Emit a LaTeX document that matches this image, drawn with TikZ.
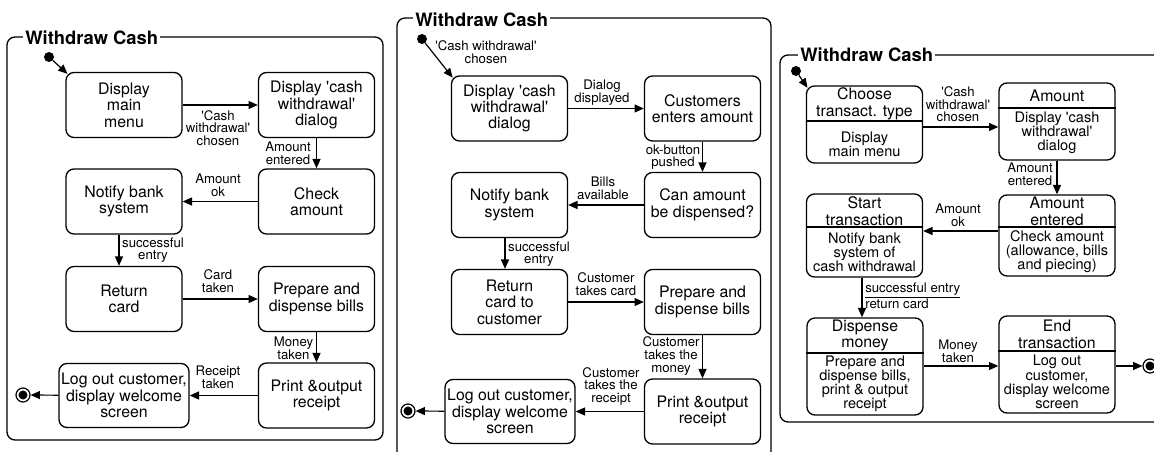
\documentclass[tikz,border=0pt]{standalone}
\usepackage{fontspec}
\setmainfont{TeX Gyre Heros}[Ligatures=TeXOff]
\usetikzlibrary{arrows.meta}
\newcommand\StateFont{\fontsize{11.9}{12.3}\selectfont}
\newcommand\BodyFont{\fontsize{10.9}{10.6}\selectfont}
\newcommand\LabelFont{\fontsize{9.9}{9.5}\selectfont}
\newcommand\TitleFont{\fontsize{13.8}{14}\selectfont\bfseries}
\begin{document}
\begin{tikzpicture}[x=0.75pt,y=-0.75pt,
  st/.style={draw,line width=1pt,rounded corners=6pt,align=center,font=\StateFont,
             inner sep=0pt,minimum width=87pt,minimum height=48.75pt},
  wide/.style={minimum width=97.5pt,minimum height=48pt},
  ct/.style={align=center,font=\StateFont,inner sep=0pt},
  bt/.style={align=center,font=\BodyFont,inner sep=0pt},
  lbl/.style={align=center,font=\LabelFont,inner sep=0pt},
  arr/.style={line width=0.9pt,-{Triangle[length=7pt,width=6pt]}},
  toedge/.style={shorten >=-2.2pt},
  div/.style={line width=0.9pt},
  frame/.style={draw,line width=1pt,rounded corners=6pt},
  ttl/.style={font=\TitleFont,fill=white,inner xsep=1.5pt,inner ysep=0pt,anchor=west},
  init/.style={circle,fill,inner sep=0pt,minimum size=7.5pt},
  fin/.style={circle,draw,line width=0.9pt,minimum size=10.5pt,inner sep=0pt,
              path picture={\fill (path picture bounding box.center) circle[radius=3.4pt];}},
]
\useasboundingbox (0,0) rectangle (1154,452);
\clip (0,0) rectangle (1154,452);
\fill[white] (0,0) rectangle (1154,452);

% ---------------- first variant ----------------
\draw[frame] (7,37) rectangle (383,440);
\node[ttl] (p1t) at (23,37.5) {Withdraw Cash};

\node[init] (p1i) at (49,57) {};
\node[st] (p1a) at (124,105) {Display\\main\\menu};
\node[st] (p1b) at (316.5,105) {Display 'cash\\withdrawal'\\dialog};
\node[st] (p1c) at (316.5,201.5) {Check\\amount};
\node[st] (p1d) at (124,201.5) {Notify bank\\system};
\node[st] (p1e) at (124,299) {Return\\card};
\node[st] (p1f) at (316.5,299) {Prepare and\\dispense bills};
\node[st] (p1g) at (316.5,395.5) {Print \&output\\receipt};
\node[st,wide] (p1h) at (124,395.5) {Log out customer,\\display welcome\\screen};
\node[fin] (p1z) at (23,395) {};

\draw[arr,toedge] (p1i) -- (p1a.north west);
\draw[arr] (p1a) -- (p1b);
\draw[arr] (p1b) -- (p1c);
\draw[arr] (p1c) -- (p1d);
\draw[arr] (119,0 |- p1d.south) -- (119,0 |- p1e.north);
\draw[arr] (p1e) -- (p1f);
\draw[arr] (p1f) -- (p1g);
\draw[arr] (p1g) -- (p1h);
\draw[arr] (p1h) -- (p1z);

\node[lbl] (p1l1) at (218,128) {'Cash\\withdrawal'\\chosen};
\node[lbl] (p1l2) at (288,153) {Amount\\entered};
\node[lbl] (p1l3) at (218,185.5) {Amount\\ok};
\node[lbl] (p1l4) at (153,250) {successful\\entry};
\node[lbl] (p1l5) at (218,281) {Card\\taken};
\node[lbl] (p1l6) at (293.5,348.5) {Money\\taken};
\node[lbl] (p1l7) at (218,377) {Receipt\\taken};

% ---------------- second variant ----------------
\draw[frame] (397,18) rectangle (771,480);
\node[ttl] (p2t) at (413,20) {Withdraw Cash};

\node[init] (p2i) at (422,39) {};
\node[st] (p2a) at (509.5,108.5) {Display 'cash\\withdrawal'\\dialog};
\node[st] (p2b) at (702.5,108.5) {Customers\\enters amount};
\node[st] (p2c) at (702.5,205) {Can amount\\be dispensed?};
\node[st] (p2d) at (509.5,205) {Notify bank\\system};
\node[st] (p2e) at (509.5,302) {Return\\card to\\customer};
\node[st] (p2f) at (702.5,302) {Prepare and\\dispense bills};
\node[st] (p2g) at (702.5,411.5) {Print \&output\\receipt};
\node[st,wide] (p2h) at (510,411.5) {Log out customer,\\display welcome\\screen};
\node[fin] (p2z) at (408,411) {};

\draw[arr,toedge] (p2i) -- (p2a.north west);
\draw[arr] (p2a) -- (p2b);
\draw[arr] (p2b) -- (p2c);
\draw[arr] (p2c) -- (p2d);
\draw[arr] (505,0 |- p2d.south) -- (505,0 |- p2e.north);
\draw[arr] (p2e) -- (p2f);
\draw[arr] (p2f) -- (p2g);
\draw[arr] (p2g) -- (p2h);
\draw[arr] (p2h) -- (p2z);

\node[lbl] (p2l1) at (486,52.5) {'Cash withdrawal'\\chosen};
\node[lbl] (p2l2) at (602,92.5) {Dialog\\displayed};
\node[lbl] (p2l3) at (673,157) {ok-button\\pushed};
\node[lbl] (p2l4) at (603,188) {Bills\\available};
\node[lbl] (p2l5) at (539,254) {successful\\entry};
\node[lbl] (p2l6) at (606,284) {Customer\\takes card};
\node[lbl] (p2l7) at (671,356) {Customer\\takes the\\money};
\node[lbl] (p2l8) at (611,386.5) {Customer\\takes the\\receipt};

% ---------------- third variant ----------------
\draw[frame] (780,55) rectangle (1190,422);
\node[ttl] (p3t) at (798,55) {Withdraw Cash};

\node[init] (p3i) at (796,71) {};
\node[st,minimum height=57.75pt] (p3a) at (864.5,124.5) {};
\node[st,minimum height=57.75pt] (p3b) at (1057,121.5) {};
\node[st,minimum height=60.75pt] (p3c) at (1057,235.5) {};
\node[st,minimum height=62.25pt] (p3d) at (864.5,235.5) {};
\node[st,minimum height=72.75pt] (p3e) at (865,366.5) {};
\node[st,minimum height=72.75pt] (p3f) at (1057,364.5) {};
\node[fin] (p3z) at (1150,366) {};

\draw[div] (p3a.west |- 0,121) -- (p3a.east |- 0,121);
\draw[div] (p3b.west |- 0,108) -- (p3b.east |- 0,108);
\draw[div] (p3c.west |- 0,227) -- (p3c.east |- 0,227);
\draw[div] (p3d.west |- 0,227) -- (p3d.east |- 0,227);
\draw[div] (p3e.west |- 0,353) -- (p3e.east |- 0,353);
\draw[div] (p3f.west |- 0,351) -- (p3f.east |- 0,351);

\node[ct] (p3a1) at (864.5,104) {Choose\\transact. type};
\node[bt] (p3a2) at (864.5,144) {Display\\main menu};
\node[ct] (p3b1) at (1057,95.5) {Amount};
\node[bt] (p3b2) at (1057,133) {Display 'cash\\withdrawal'\\dialog};
\node[ct] (p3c1) at (1057,211.5) {Amount\\entered};
\node[bt] (p3c2) at (1057,251.5) {Check amount\\(allowance, bills\\and piecing)};
\node[ct] (p3d1) at (864.5,211) {Start\\transaction};
\node[bt] (p3d2) at (864.5,252) {Notify bank\\system of\\cash withdrawal};
\node[ct] (p3e1) at (865,335.5) {Dispense\\money};
\node[bt] (p3e2) at (865,384) {Prepare and\\dispense bills,\\print \& output\\receipt};
\node[ct] (p3f1) at (1057,334.5) {End\\transaction};
\node[bt] (p3f2) at (1057,382) {Log out\\customer,\\display welcome\\screen};

\draw[arr,toedge] (p3i) -- (p3a.north west);
\draw[arr] (p3a.east |- 0,127) -- (p3b.west |- 0,127);
\draw[arr] (p3b) -- (p3c);
\draw[arr] (p3c.west |- 0,231) -- (p3d.east |- 0,231);
\draw[arr] (862,0 |- p3d.south) -- (862,0 |- p3e.north);
\draw[arr] (p3e.east |- 0,366) -- (p3f.west |- 0,366);
\draw[arr] (p3f.east |- 0,366) -- (p3z);

\node[lbl] (p3l1) at (958,104.5) {'Cash\\withdrawal'\\chosen};
\node[lbl] (p3l2) at (1030,174.5) {Amount\\entered};
\node[lbl] (p3l3) at (958,215.5) {Amount\\ok};
\node[lbl,align=left,anchor=north west] (p3l4) at (865,282.5) {\underline{successful entry}\\return card};
\node[lbl] (p3l5) at (958,351.5) {Money\\taken};
\end{tikzpicture}
\end{document}
